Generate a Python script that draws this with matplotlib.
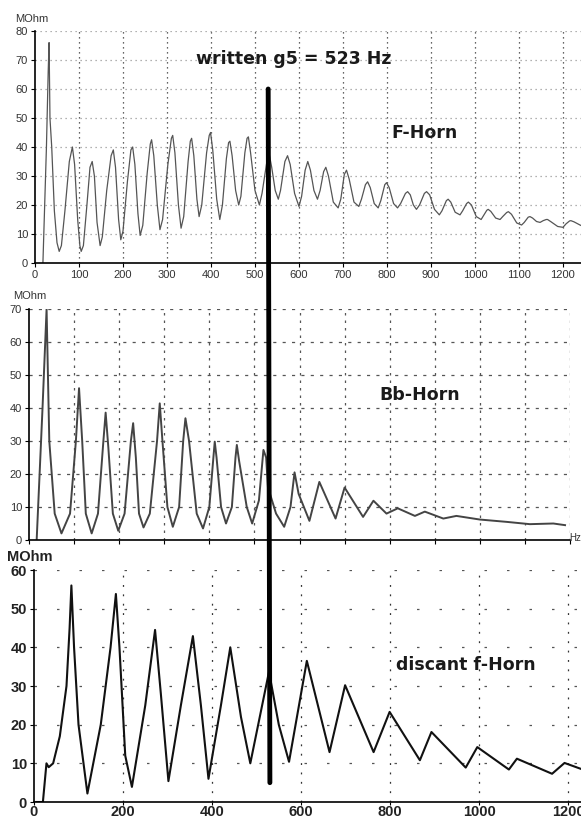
import matplotlib
matplotlib.use("Agg")
import matplotlib.pyplot as plt
from matplotlib.patches import ConnectionPatch

# F-Horn impedance (Hz, MOhm)
f_horn_hz = [18, 26, 30, 32, 34, 38, 44, 50, 55, 60, 68, 78, 85, 90, 97, 102, 105,
             110, 118, 125, 130, 135, 141, 148, 153, 163, 173, 178, 183, 190, 195,
             200, 210, 218, 222, 227, 234, 239, 245, 255, 262, 265, 270, 278, 284,
             290, 302, 310, 313, 318, 326, 332, 338, 348, 353, 356, 361, 368, 373,
             379, 390, 396, 399, 404, 413, 420, 426, 435, 440, 443, 448, 456, 463,
             468, 477, 482, 485, 490, 500, 510, 516, 526, 530, 533, 538, 546, 553,
             558, 568, 574, 580, 590, 600, 606, 614, 620, 626, 634, 642, 648, 656,
             661, 667, 678, 689, 695, 703, 708, 714, 725, 736, 742, 751, 756, 762,
             771, 780, 786, 795, 799, 805, 815, 824, 831, 842, 847, 853, 860, 867,
             874, 885, 890, 897, 908, 919, 925, 935, 939, 945, 955, 966, 972, 981,
             985, 992, 1003, 1014, 1020, 1027, 1030, 1036, 1047, 1057, 1063, 1072,
             1076, 1083, 1095, 1106, 1112, 1121, 1125, 1131, 1140, 1148, 1155, 1162,
             1165, 1172, 1188, 1200, 1207, 1215, 1218, 1225, 1240]
f_horn_z = [0, 40, 66, 76, 50, 40, 18, 7, 4, 6, 18, 35, 40, 34, 15, 6, 4,
            6, 20, 33, 35, 30, 14, 6, 9, 25, 37, 39, 33, 15, 8,
            11, 28, 39, 40, 34, 17, 9.5, 13, 31, 41, 42.5, 37, 20, 11.5,
            15, 34, 43, 44, 38, 20, 12, 16, 35, 42, 43, 37, 22, 16,
            20, 38, 44, 45, 39, 22, 15, 20, 36, 41.5, 42, 37, 25, 20,
            23, 38, 43, 43.5, 38, 25, 20, 24, 34, 37, 37, 33, 25, 22,
            25, 35, 37, 34, 24, 19.5, 23, 32, 35, 32, 25, 22, 25, 31.5,
            33, 30, 21, 19, 22, 30.5, 32, 29, 21, 19.5, 22, 27, 28, 26,
            20.5, 19, 21.5, 27, 27.7, 26, 20.5, 19, 20.5, 24, 24.6, 23.5, 20, 18.5,
            20, 24, 24.6, 23.5, 18.5, 16.6, 18, 21.5, 22, 21, 17.5, 16.6, 18, 20.5,
            21, 20, 16, 15, 16.5, 18.2, 18.5, 17.8, 15.5, 15, 16, 17.4,
            17.7, 16.8, 13.8, 13.1, 14, 15.8, 16, 15.5, 14.3, 14, 14.6, 15,
            15, 14.3, 12.6, 12.3, 13.5, 14.5, 14.6, 14.2, 13]

# Bb-Horn
bb_horn_hz = [17, 30, 39, 45, 57, 72, 91, 104, 111, 118, 126, 139, 153, 165, 170,
              176, 186, 198, 212, 226, 231, 237, 244, 254, 268, 284, 290, 296, 307,
              319, 333, 342, 347, 355, 372, 386, 400, 409, 412, 416, 426, 437, 450,
              458, 461, 466, 483, 495, 510, 520, 526, 530, 548, 566, 580, 589, 598,
              622, 644, 680, 700, 741, 764, 793, 818, 856, 878, 919, 948, 1000,
              1059, 1111, 1163, 1189]
bb_horn_z = [0, 40, 70, 30, 8, 2, 8, 30, 46, 30, 8, 2, 8, 30, 38.6,
             28, 8, 2.8, 8, 30, 35.4, 25, 8, 3.8, 8, 30, 41.4, 30, 10,
             4, 10, 30, 36.9, 30, 8, 3.5, 10, 25, 29.8, 25, 10, 5, 10,
             25, 28.8, 24, 10, 5, 12, 27.3, 25, 16, 8, 4, 10, 20.5, 14,
             5.8, 17.6, 6.5, 15.9, 7, 11.9, 8, 9.6, 7.3, 8.6, 6.5, 7.3, 6.2,
             5.5, 4.8, 5, 4.5]

# discant f-Horn
discant_hz = [5, 20, 28, 33, 43, 58, 73, 80, 84, 90, 100, 120, 150, 172, 184, 192,
              205, 220, 250, 272, 285, 302, 330, 357, 375, 392, 420, 441, 465, 486,
              528, 550, 573, 613, 664, 699, 763, 799, 867, 893, 970, 996, 1067,
              1085, 1164, 1192, 1228]
discant_z = [0, 0, 10, 9, 10, 17, 30, 45, 56, 40, 20, 2.2, 20, 40, 53.8, 40,
             12, 3.9, 25, 44.5, 28, 5.4, 25, 42.9, 25, 6, 25, 40, 22, 10,
             33.7, 20, 10.4, 36.5, 12.9, 30.2, 12.9, 23.3, 10.8, 18.1, 8.9, 14.2, 8.4,
             11.2, 7.3, 10.1, 8.6]

g5_label = "written g5 = 523 Hz"
g5_line_hz = 530
line_top, line_bottom = 60, 5

fig = plt.figure(figsize=(5.81, 8.19), dpi=100)
ax1 = fig.add_axes([35/581, 1-263/819, 546/581, 232/819])
ax2 = fig.add_axes([29/581, 1-540/819, 541/581, 231/819])
ax3 = fig.add_axes([34/581, 1-802/819, 547/581, 232/819])

lab = dict(family="Liberation Sans", size=8, color="#333333")
title_font = dict(ha="center", va="center", fontsize=12.5, fontweight="bold",
                  color="#1a1a1a")

# --- F-Horn
ax1.plot(f_horn_hz, f_horn_z, color="#555555", lw=0.9)
ax1.set_xlim(0, 1241)
ax1.set_ylim(0, 80)
ax1.set_xticks(range(0, 1201, 100))
ax1.set_yticks(range(0, 81, 10))
for x in range(100, 1201, 100):
    ax1.axvline(x, color="#333333", lw=0.9, ls=(0, (1, 3)), zorder=0)
for y in range(10, 81, 10):
    ax1.axhline(y, color="#999999", lw=0.9, ls=(0, (1, 3)), zorder=0)
ax1.text(886, 44.8, "F-Horn", **title_font)
ax1.text(587, 70.3, g5_label, **title_font)
ax1.text(-0.037, 1.052, "MOhm", transform=ax1.transAxes, ha="left",
         va="center", **lab)

# --- Bb-Horn
ax2.plot(bb_horn_hz, bb_horn_z, color="#444444", lw=1.4)
ax2.set_xlim(0, 1200)
ax2.set_ylim(0, 70)
ax2.set_xticks(range(0, 1201, 100))
ax2.set_xticklabels([])
ax2.set_yticks(range(0, 71, 10))
for x in range(100, 1201, 100):
    ax2.axvline(x, color="#555555", lw=0.9, ls=(0, (2, 4)), zorder=0)
for y in range(10, 71, 10):
    ax2.axhline(y, color="#555555", lw=0.9, ls=(0, (2.5, 5)), zorder=0)
ax2.text(867, 43.9, "Bb-Horn", **title_font)
ax2.text(-0.030, 1.056, "MOhm", transform=ax2.transAxes, ha="left",
         va="center", **lab)
ax2.text(0.999, 0.01, "Hz", transform=ax2.transAxes, ha="left",
         va="center", family="Liberation Sans", size=7, color="#333333")

# --- discant f-Horn
ax3.plot(discant_hz, discant_z, color="#111111", lw=1.5)
ax3.set_xlim(0, 1229)
ax3.set_ylim(0, 60)
ax3.set_xticks(range(0, 1201, 200))
ax3.set_yticks(range(0, 61, 10))
for x in range(200, 1201, 200):
    ax3.axvline(x, color="#333333", lw=0.9, ls=(0, (1.5, 6)), zorder=0)
for y in range(10, 61, 10):
    ax3.axhline(y, color="#555555", lw=0.9, ls=(0, (2, 16)), zorder=0)
ax3.text(971, 35.4, "discant f-Horn", **title_font)
ax3.text(-0.049, 1.056, "MOhm", transform=ax3.transAxes, ha="left",
         va="center", family="Liberation Sans", size=10.5, fontweight="bold",
         color="#222222")

for ax in (ax1, ax2, ax3):
    ax.spines["top"].set_visible(False)
    ax.spines["right"].set_visible(False)
    ax.spines["left"].set_linewidth(1.2)
    ax.spines["bottom"].set_linewidth(1.2)
    ax.tick_params(length=3, width=0.8, pad=2, labelsize=8, labelcolor="#333333")
    for t in ax.get_xticklabels() + ax.get_yticklabels():
        t.set_family("Liberation Sans")
ax3.tick_params(axis="x", length=2, pad=0.5)
for t in ax3.get_xticklabels() + ax3.get_yticklabels():
    t.set_fontweight("bold")
    t.set_fontsize(10.5)
    t.set_color("#222222")

# 523 Hz marker across the panels
con = ConnectionPatch(xyA=(g5_line_hz, line_top), coordsA=ax1.transData,
                      xyB=(g5_line_hz, line_bottom), coordsB=ax3.transData,
                      color="black", lw=3.5)
fig.add_artist(con)

fig.savefig("out.png", dpi=100)
